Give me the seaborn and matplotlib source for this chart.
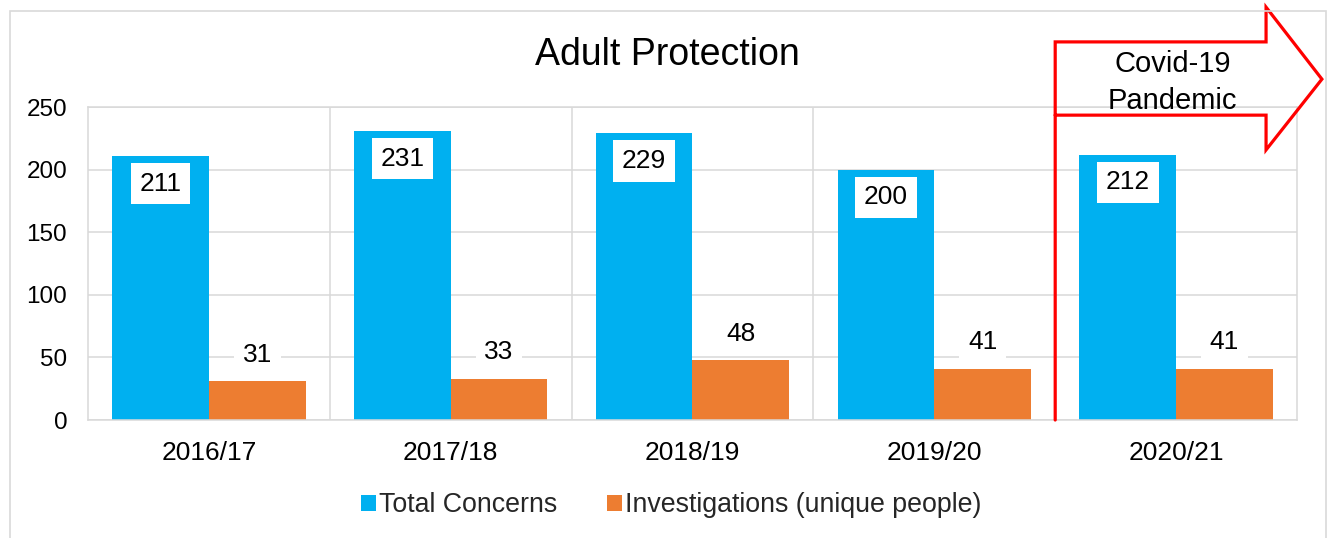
import matplotlib
matplotlib.use("Agg")
import matplotlib.pyplot as plt
import matplotlib.transforms as mtransforms
from matplotlib.patches import Rectangle
import pandas as pd
import seaborn as sns

# Chart data
years = ["2016/17", "2017/18", "2018/19", "2019/20", "2020/21"]
total_concerns = [211, 231, 229, 200, 212]
investigations = [31, 33, 48, 41, 41]
series_names = ["Total Concerns", "Investigations (unique people)"]
yticks = [0, 50, 100, 150, 200, 250]
covid_label = "Covid-19\nPandemic"

BLUE = "#00B0F0"
ORANGE = "#ED7D31"
GRID = "#D9D9D9"

df = pd.DataFrame({
    "Year": years * 2,
    "Value": total_concerns + investigations,
    "Series": [series_names[0]] * len(years) + [series_names[1]] * len(years),
})

sns.set_theme(style="white")
plt.rcParams["font.family"] = ["Liberation Sans", "DejaVu Sans"]

fig = plt.figure(figsize=(13.33, 5.38), dpi=100)
ax = fig.add_axes([0.066, 0.2193, 0.907, 0.5818])

sns.barplot(data=df, x="Year", y="Value", hue="Series",
            palette=[BLUE, ORANGE], saturation=1, width=0.8,
            linewidth=0, ax=ax, zorder=2)

ax.set_xlim(-0.5, len(years) - 0.5)
ax.set_ylim(0, 250)
ax.set_yticks(yticks)
ax.set_xlabel("")
ax.set_ylabel("")

# Grid: horizontal value lines plus category separators
ax.yaxis.grid(True, color=GRID, linewidth=1.1, zorder=0)
ax.set_xticks([i + 0.5 for i in range(len(years) - 1)], minor=True)
ax.xaxis.grid(True, which="minor", color=GRID, linewidth=1.1, zorder=0)
ax.set_axisbelow(True)
for sp in ax.spines.values():
    sp.set_color(GRID)
    sp.set_linewidth(1.1)

ax.tick_params(axis="y", labelsize=17.5, length=0, pad=15, labelcolor="black")
ax.tick_params(axis="x", which="major", labelsize=19, length=0, pad=15, labelcolor="black")
ax.tick_params(axis="x", which="minor", length=0)

# Value labels in white boxes
box = dict(boxstyle="square,pad=0.33", facecolor="white", edgecolor="none")
for idx, cont in enumerate(ax.containers):
    for bar in cont:
        h = bar.get_height()
        cx = bar.get_x() + bar.get_width() / 2
        dy = -20 if idx == 0 else 19
        ax.annotate(f"{h:.0f}", (cx, h), xytext=(0, dy), textcoords="offset points",
                    ha="center", va="center", fontsize=19, color="black",
                    bbox=box, zorder=5)

# Legend
ax.legend_.remove()
handles = [Rectangle((0, 0), 1, 1, facecolor=c, edgecolor="none") for c in (BLUE, ORANGE)]
fig.legend(handles, series_names, loc="center", bbox_to_anchor=(0.5035, 0.061),
           ncol=2, frameon=False, fontsize=19.3, handlelength=0.55, handleheight=0.55,
           handletextpad=0.12, columnspacing=1.85)

# Title
fig.text(0.501, 0.897, "Adult Protection", ha="center", va="center", fontsize=27, color="black")

# Pandemic marker: divider line joined to an outlined arrow
trans = mtransforms.blended_transform_factory(ax.transData, ax.transAxes)
x0 = len(years) - 1.5
hx, tipx = 4.372, 4.603
body_top, body_bot = 1.208, 0.974
head_top, head_bot, tip_y = 1.319, 0.863, 1.089
px = [x0, x0, hx, hx, tipx, hx, hx, x0]
py = [0, body_top, body_top, head_top, tip_y, head_bot, body_bot, body_bot]
ax.plot(px, py, color="#FF0000", linewidth=2.3, transform=trans,
        clip_on=False, zorder=6, solid_joinstyle="miter")
ax.text(3.985, 1.078, covid_label, transform=trans, ha="center", va="center",
        fontsize=21, linespacing=1.42, color="black", zorder=7)

# Outer chart border
fig.patches.append(Rectangle((0.0075, -0.05), 0.9872, 1.0296, transform=fig.transFigure,
                             fill=False, edgecolor=GRID, linewidth=1.2, zorder=0))

fig.savefig("out.png", dpi=100, facecolor="white")
